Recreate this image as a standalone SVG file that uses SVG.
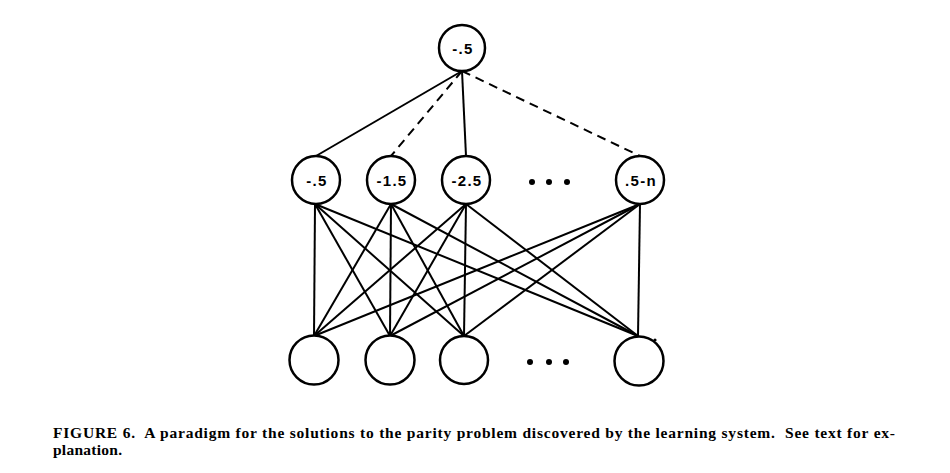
<svg xmlns="http://www.w3.org/2000/svg" width="950" height="473" viewBox="0 0 950 473">
<style>
.node{fill:#fff;stroke:#000;stroke-width:2.5}
.lbl{font-family:"Liberation Sans",Arial,sans-serif;font-weight:bold;font-size:15px;letter-spacing:1.3px;text-anchor:middle;fill:#000}
.ln{stroke:#000;stroke-width:2;fill:none}
.dash{stroke-dasharray:9 6}
.cap{font-family:"Liberation Serif","Times New Roman",serif;font-weight:bold;font-size:15.5px;fill:#000;white-space:pre}
.dot{fill:#000}
</style>
<rect width="950" height="473" fill="#fff"/>
<g id="connectors">
<line class="ln" x1="462" y1="71" x2="316" y2="156"/>
<line class="ln dash" x1="462" y1="71" x2="391" y2="156"/>
<line class="ln" x1="462" y1="71" x2="466" y2="156"/>
<line class="ln dash" x1="462" y1="71" x2="640" y2="156"/>
<line class="ln" x1="315" y1="204" x2="314" y2="336"/>
<line class="ln" x1="315" y1="204" x2="390" y2="336"/>
<line class="ln" x1="315" y1="204" x2="464" y2="336"/>
<line class="ln" x1="315" y1="204" x2="638" y2="336"/>
<line class="ln" x1="391" y1="204" x2="314" y2="336"/>
<line class="ln" x1="391" y1="204" x2="390" y2="336"/>
<line class="ln" x1="391" y1="204" x2="464" y2="336"/>
<line class="ln" x1="391" y1="204" x2="638" y2="336"/>
<line class="ln" x1="466" y1="204" x2="314" y2="336"/>
<line class="ln" x1="466" y1="204" x2="390" y2="336"/>
<line class="ln" x1="466" y1="204" x2="464" y2="336"/>
<line class="ln" x1="466" y1="204" x2="638" y2="336"/>
<line class="ln" x1="640" y1="204" x2="314" y2="336"/>
<line class="ln" x1="640" y1="204" x2="390" y2="336"/>
<line class="ln" x1="640" y1="204" x2="464" y2="336"/>
<line class="ln" x1="640" y1="204" x2="638" y2="336"/>
</g>
<g id="out"><circle class="node" cx="462" cy="48" r="23"/><text class="lbl" x="463" y="54">-.5</text></g>
<g id="h1"><circle class="node" cx="316" cy="180" r="24"/><text class="lbl" x="317" y="186">-.5</text></g>
<g id="h2"><circle class="node" cx="391" cy="180" r="24"/><text class="lbl" x="392" y="186">-1.5</text></g>
<g id="h3"><circle class="node" cx="466" cy="180" r="24"/><text class="lbl" x="467" y="186">-2.5</text></g>
<g id="hdots"><circle class="dot" cx="532" cy="182" r="3"/><circle class="dot" cx="549" cy="182" r="3"/><circle class="dot" cx="567" cy="182" r="3"/></g>
<g id="hn"><circle class="node" cx="640" cy="180" r="24"/><text class="lbl" x="641" y="186">.5-n</text></g>
<g id="i1"><circle class="node" cx="314" cy="360" r="24.5"/></g>
<g id="i2"><circle class="node" cx="390" cy="360" r="24.5"/></g>
<g id="i3"><circle class="node" cx="464" cy="360" r="24"/></g>
<g id="idots"><circle class="dot" cx="530" cy="362" r="3"/><circle class="dot" cx="549" cy="362" r="3"/><circle class="dot" cx="566" cy="362" r="3"/></g>
<g id="in"><circle class="node" cx="639" cy="361" r="24.5"/><circle class="dot" cx="655" cy="340" r="1.6"/></g>
<g id="caption">
<text class="cap" x="53" y="438" textLength="842" lengthAdjust="spacing" xml:space="preserve">FIGURE 6.  A paradigm for the solutions to the parity problem discovered by the learning system.  See text for ex-</text>
<text class="cap" x="53" y="455" textLength="69" lengthAdjust="spacing">planation.</text>
</g>
</svg>
